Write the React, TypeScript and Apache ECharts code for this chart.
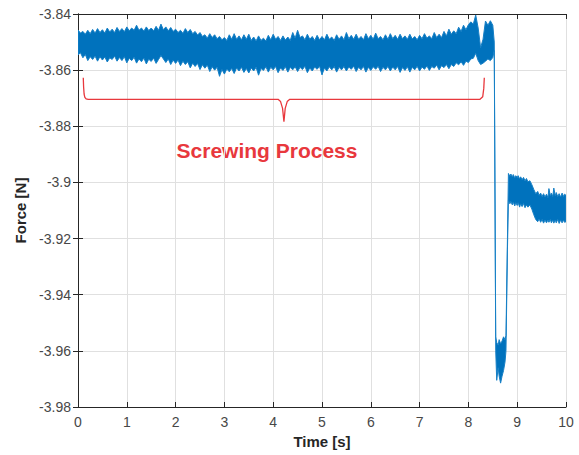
import React, { useEffect, useRef } from "react";
import * as echarts from "echarts";

// Time [s] samples of the force envelope
const timeS = [
  0.0, 0.05, 0.1, 0.15, 0.2, 0.25, 0.3, 0.35, 0.4, 0.45,
  0.5, 0.55, 0.6, 0.65, 0.7, 0.75, 0.8, 0.85, 0.9, 0.95,
  1.0, 1.05, 1.1, 1.15, 1.2, 1.25, 1.3, 1.35, 1.4, 1.45,
  1.5, 1.55, 1.6, 1.65, 1.7, 1.75, 1.8, 1.85, 1.9, 1.95,
  2.0, 2.05, 2.1, 2.15, 2.2, 2.25, 2.3, 2.35, 2.4, 2.45,
  2.5, 2.55, 2.6, 2.65, 2.7, 2.75, 2.8, 2.85, 2.9, 2.95,
  3.0, 3.05, 3.1, 3.15, 3.2, 3.25, 3.3, 3.35, 3.4, 3.45,
  3.5, 3.55, 3.6, 3.65, 3.7, 3.75, 3.8, 3.85, 3.9, 3.95,
  4.0, 4.05, 4.1, 4.15, 4.2, 4.25, 4.3, 4.35, 4.4, 4.45,
  4.5, 4.55, 4.6, 4.65, 4.7, 4.75, 4.8, 4.85, 4.9, 4.95,
  5.0, 5.05, 5.1, 5.15, 5.2, 5.25, 5.3, 5.35, 5.4, 5.45,
  5.5, 5.55, 5.6, 5.65, 5.7, 5.75, 5.8, 5.85, 5.9, 5.95,
  6.0, 6.05, 6.1, 6.15, 6.2, 6.25, 6.3, 6.35, 6.4, 6.45,
  6.5, 6.55, 6.6, 6.65, 6.7, 6.75, 6.8, 6.85, 6.9, 6.95,
  7.0, 7.05, 7.1, 7.15, 7.2, 7.25, 7.3, 7.35, 7.4, 7.45,
  7.5, 7.55, 7.6, 7.65, 7.7, 7.75, 7.8, 7.85, 7.9, 7.95,
  8.0, 8.05, 8.1, 8.15, 8.2, 8.25, 8.3, 8.35, 8.4, 8.45,
  8.5, 8.53, 8.56, 8.58, 8.61, 8.63, 8.66, 8.69, 8.72, 8.75,
  8.77, 8.8, 8.82, 8.85, 8.87, 8.9, 8.92, 8.95, 8.97, 9.0,
  9.02, 9.05, 9.07, 9.1, 9.13, 9.16, 9.19, 9.22, 9.26, 9.3,
  9.34, 9.38, 9.42, 9.45, 9.48, 9.51, 9.54, 9.57, 9.6, 9.63,
  9.65, 9.68, 9.7, 9.73, 9.75, 9.78, 9.8, 9.83, 9.86, 9.89,
  9.92, 9.95, 9.97, 10.0,
];

// Upper edge of the noisy force signal [N]
const upperN = [
  -3.8457, -3.8468, -3.8462, -3.8472, -3.8458, -3.847, -3.8455, -3.8468, -3.8452, -3.8466,
  -3.8456, -3.8468, -3.845, -3.8464, -3.8454, -3.8466, -3.8448, -3.8462, -3.8452, -3.8463,
  -3.8446, -3.846, -3.845, -3.8458, -3.844, -3.8458, -3.845, -3.8461, -3.8446, -3.8459,
  -3.845, -3.846, -3.8444, -3.8458, -3.8436, -3.8456, -3.8446, -3.846, -3.8448, -3.8462,
  -3.8454, -3.8466, -3.8458, -3.8469, -3.8452, -3.8466, -3.8455, -3.847, -3.8462, -3.8475,
  -3.8466, -3.848, -3.8474, -3.8486, -3.847, -3.8484, -3.8474, -3.8488, -3.848, -3.8492,
  -3.8484, -3.8494, -3.8474, -3.849, -3.847, -3.849, -3.8478, -3.8492, -3.8474, -3.849,
  -3.8472, -3.8494, -3.8482, -3.8496, -3.8478, -3.8494, -3.8486, -3.8496, -3.8476, -3.8492,
  -3.8472, -3.849, -3.848, -3.8494, -3.8478, -3.8493, -3.8482, -3.8494, -3.8466, -3.8486,
  -3.8458, -3.8484, -3.8478, -3.8492, -3.8472, -3.849, -3.848, -3.8494, -3.8476, -3.8492,
  -3.848, -3.8492, -3.8472, -3.849, -3.8482, -3.8494, -3.8474, -3.849, -3.8478, -3.8492,
  -3.8466, -3.8488, -3.8476, -3.849, -3.8472, -3.849, -3.848, -3.8492, -3.847, -3.8488,
  -3.8476, -3.849, -3.8468, -3.8488, -3.848, -3.8492, -3.8474, -3.849, -3.847, -3.8488,
  -3.8476, -3.849, -3.8472, -3.8488, -3.8478, -3.849, -3.8472, -3.8489, -3.848, -3.8492,
  -3.8476, -3.8488, -3.847, -3.8486, -3.8478, -3.8488, -3.8466, -3.8484, -3.8472, -3.8484,
  -3.8462, -3.8478, -3.8454, -3.8472, -3.846, -3.847, -3.8447, -3.8462, -3.844, -3.8456,
  -3.8438, -3.8428, -3.8436, -3.8404, -3.845, -3.852, -3.849, -3.8425, -3.844, -3.8424,
  -3.844, -3.85, -3.955, -3.957, -3.958, -3.956, -3.9575, -3.9565, -3.955, -3.956,
  -3.9545, -3.92, -3.8968, -3.8978, -3.897, -3.898, -3.8972, -3.8984, -3.8976, -3.8982,
  -3.8976, -3.8988, -3.898, -3.899, -3.8982, -3.8994, -3.8986, -3.8998, -3.8994, -3.9008,
  -3.9025, -3.904, -3.9032, -3.9046, -3.9038, -3.905, -3.904, -3.9052, -3.9042, -3.9054,
  -3.9022, -3.9048, -3.9038, -3.905, -3.902, -3.9048, -3.9036, -3.905, -3.904, -3.9052,
  -3.9038, -3.905, -3.9042, -3.9046,
];

// Lower edge of the noisy force signal [N]
const lowerN = [
  -3.8546, -3.8538, -3.8556, -3.8544, -3.8566, -3.8552, -3.8562, -3.855, -3.8568, -3.8552,
  -3.8564, -3.8553, -3.8571, -3.8556, -3.8562, -3.855, -3.8568, -3.8555, -3.8566, -3.8552,
  -3.8574, -3.8558, -3.8566, -3.8554, -3.8575, -3.856, -3.857, -3.8557, -3.8578, -3.8561,
  -3.8569, -3.8557, -3.8576, -3.8562, -3.8548, -3.856, -3.8573, -3.856, -3.858, -3.8564,
  -3.8576, -3.8564, -3.8584, -3.8568, -3.858, -3.857, -3.8592, -3.8575, -3.8587, -3.8576,
  -3.8598, -3.8581, -3.8593, -3.8582, -3.8605, -3.8588, -3.86, -3.859, -3.8622, -3.8598,
  -3.8614, -3.8596, -3.8606, -3.8594, -3.8612, -3.8592, -3.8603, -3.859, -3.8608, -3.8594,
  -3.861, -3.8592, -3.8603, -3.859, -3.8618, -3.8594, -3.8601, -3.8588, -3.8607, -3.859,
  -3.8599, -3.8587, -3.8609, -3.8592, -3.8601, -3.8588, -3.8607, -3.859, -3.8599, -3.8588,
  -3.8605, -3.859, -3.8598, -3.8586, -3.8609, -3.8592, -3.8603, -3.8589, -3.8597, -3.8586,
  -3.8617, -3.8592, -3.8603, -3.8588, -3.8599, -3.8587, -3.8607, -3.859, -3.8599, -3.8587,
  -3.8603, -3.8589, -3.8597, -3.8586, -3.8605, -3.859, -3.8599, -3.8587, -3.8607, -3.859,
  -3.8601, -3.8588, -3.8597, -3.8586, -3.8605, -3.859, -3.8599, -3.8587, -3.8603, -3.8589,
  -3.8599, -3.8587, -3.8608, -3.8591, -3.8601, -3.8588, -3.8607, -3.859, -3.8599, -3.8586,
  -3.8603, -3.8589, -3.8597, -3.8585, -3.8601, -3.8587, -3.8593, -3.8582, -3.8599, -3.8584,
  -3.8591, -3.858, -3.8595, -3.858, -3.8587, -3.8574, -3.8581, -3.857, -3.8583, -3.8568,
  -3.8573, -3.856, -3.8558, -3.854, -3.8566, -3.858, -3.8575, -3.8568, -3.856, -3.8566,
  -3.8555, -3.853, -3.96, -3.9705, -3.966, -3.969, -3.9715, -3.969, -3.967, -3.964,
  -3.96, -3.924, -3.9065, -3.9076, -3.9068, -3.908, -3.907, -3.9084, -3.9072, -3.9082,
  -3.9072, -3.9088, -3.9076, -3.9086, -3.9075, -3.909, -3.908, -3.9088, -3.908, -3.9095,
  -3.9115, -3.9132, -3.914, -3.913, -3.9142, -3.9132, -3.9145, -3.9134, -3.9144, -3.9134,
  -3.9142, -3.9132, -3.9144, -3.9134, -3.9145, -3.9134, -3.9144, -3.9132, -3.9146, -3.9134,
  -3.9144, -3.9134, -3.9142, -3.914,
];

// Red brace annotation (time, force)
const braceT = [0.108, 0.115, 0.125, 0.14, 0.165, 0.21, 4.1, 4.151, 4.192, 4.22, 4.246, 4.287, 4.34, 8.238, 8.293, 8.315, 8.326];
const braceN = [-3.8627, -3.866, -3.8685, -3.8697, -3.8702, -3.8704, -3.8704, -3.8712, -3.8736, -3.8784, -3.8736, -3.8712, -3.8704, -3.8704, -3.8695, -3.8665, -3.8627];

const annotationText = "Screwing Process";

const BLUE = "#0072BD";
const EDGE = "#1780c6";
const RED = "#e8383d";
const AXIS = "#262626";
const LABEL = "#474747";
const GRID = "#e0e0e0";
const FONT = "'Liberation Sans', Arial, Helvetica, sans-serif";

export default function App() {
  const ref = useRef<HTMLDivElement>(null);

  useEffect(() => {
    const chart = echarts.init(ref.current as HTMLDivElement, null, { renderer: "svg" });

    const lineStyle = { color: AXIS, width: 1 };
    const tick = { show: true, inside: true, length: 5, lineStyle };
    const fmtY = (v: number) => String(parseFloat(v.toFixed(2)));

    chart.setOption({
      animation: false,
      backgroundColor: "#ffffff",
      grid: { left: 78, right: 13, top: 14, bottom: 48, containLabel: false },
      xAxis: [
        {
          type: "value",
          min: 0,
          max: 10,
          interval: 1,
          position: "bottom",
          name: "Time [s]",
          nameLocation: "middle",
          nameGap: 26,
          nameTextStyle: { fontFamily: FONT, fontWeight: "bold", fontSize: 15, color: AXIS },
          axisLine: { show: true, lineStyle },
          axisTick: tick,
          axisLabel: { fontFamily: FONT, fontSize: 14, color: LABEL, margin: 8 },
          splitLine: { show: true, lineStyle: { color: GRID, width: 1 } },
        },
        {
          type: "value",
          min: 0,
          max: 10,
          interval: 1,
          position: "top",
          axisLine: { show: true, lineStyle },
          axisTick: tick,
          axisLabel: { show: false },
          splitLine: { show: false },
        },
      ],
      yAxis: [
        {
          type: "value",
          min: -3.98,
          max: -3.84,
          interval: 0.02,
          position: "left",
          name: "Force [N]",
          nameLocation: "middle",
          nameGap: 47,
          nameTextStyle: { fontFamily: FONT, fontWeight: "bold", fontSize: 15, color: AXIS },
          axisLine: { show: true, lineStyle },
          axisTick: tick,
          axisLabel: { fontFamily: FONT, fontSize: 14, color: LABEL, margin: 7, formatter: fmtY },
          splitLine: { show: true, lineStyle: { color: GRID, width: 1 } },
        },
        {
          type: "value",
          min: -3.98,
          max: -3.84,
          interval: 0.02,
          position: "right",
          axisLine: { show: true, lineStyle },
          axisTick: tick,
          axisLabel: { show: false },
          splitLine: { show: false },
        },
      ],
      series: [
        {
          type: "custom",
          xAxisIndex: 0,
          yAxisIndex: 0,
          silent: true,
          clip: true,
          data: [[timeS[0], upperN[0]]],
          encode: { x: 0, y: 1 },
          renderItem: (_params: any, api: any) => {
            const pts: number[][] = [];
            for (let i = 0; i < timeS.length; i++) pts.push(api.coord([timeS[i], upperN[i]]));
            for (let i = timeS.length - 1; i >= 0; i--) pts.push(api.coord([timeS[i], lowerN[i]]));
            return {
              type: "polygon",
              shape: { points: pts },
              style: { fill: BLUE, stroke: EDGE, lineWidth: 1, lineJoin: "miter" },
            };
          },
        },
        {
          type: "line",
          xAxisIndex: 0,
          yAxisIndex: 0,
          silent: true,
          showSymbol: false,
          symbol: "none",
          data: braceT.map((t, i) => [t, braceN[i]]),
          lineStyle: { color: RED, width: 1.3 },
          z: 3,
        },
      ],
      graphic: [
        {
          type: "text",
          x: 267,
          y: 150,
          style: {
            text: annotationText,
            fill: RED,
            fontFamily: FONT,
            fontWeight: "bold",
            fontSize: 21,
            align: "center",
            verticalAlign: "middle",
          },
        },
      ],
    });

    return () => chart.dispose();
  }, []);

  return (
    <div
      ref={ref}
      style={{ position: "fixed", left: 0, top: 0, width: 579, height: 455, background: "#fff" }}
    />
  );
}
